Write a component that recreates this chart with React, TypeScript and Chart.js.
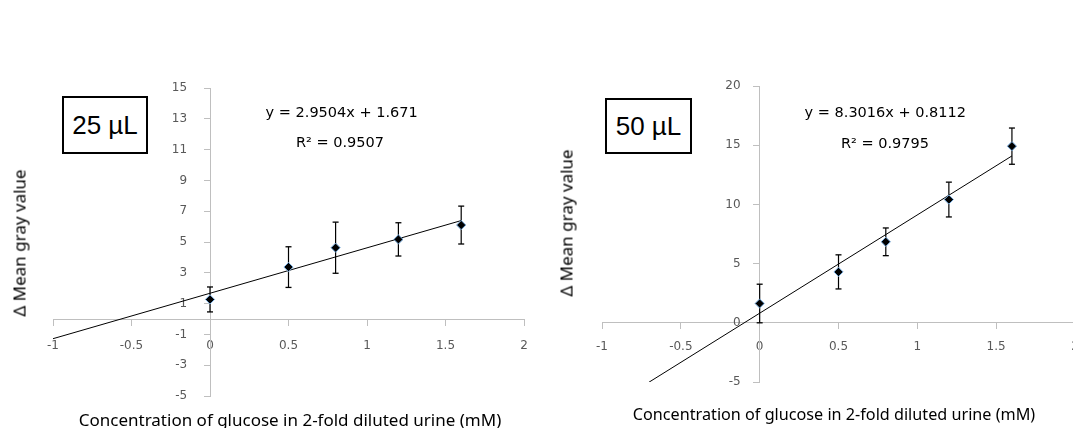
import React, { useEffect, useRef } from "react";
import { Chart, registerables } from "chart.js";

Chart.register(...registerables);

// ---- data ----
const concentrations = [0, 0.5, 0.8, 1.2, 1.6];
const values25 = [1.27, 3.37, 4.63, 5.17, 6.1];
const errors25 = [0.81, 1.32, 1.66, 1.08, 1.23];
const values50 = [1.63, 4.3, 6.84, 10.41, 14.92];
const errors50 = [1.63, 1.44, 1.17, 1.47, 1.53];
const slope25 = 2.9504;
const intercept25 = 1.671;
const rSquared25 = 0.9507;
const slope50 = 8.3016;
const intercept50 = 0.8112;
const rSquared50 = 0.9795;
const trendRange = [-1, 1.6];
const xTicks = [-1, -0.5, 0, 0.5, 1, 1.5, 2];
const yTicks25 = [-5, -3, -1, 1, 3, 5, 7, 9, 11, 13, 15];
const yTicks50 = [-5, 0, 5, 10, 15, 20];
const xTitle = "Concentration of glucose in 2-fold diluted urine (mM)";
const yTitle = "Δ Mean gray value";

const TICK_FONT = { family: "'DejaVu Sans', Verdana, sans-serif", size: 12 };
const AXIS_COLOR = "#bfbfbf";
const TICK_COLOR = "#595959";

const zeroPad = (s: any) => {
  s.paddingLeft = 0;
  s.paddingRight = 0;
  s.paddingTop = 0;
  s.paddingBottom = 0;
};

function makeConfig(
  values: number[],
  errors: number[],
  slope: number,
  intercept: number,
  yTicks: number[],
  padding: { left: number; right: number; top: number; bottom: number },
  xPad: number,
  ySpaces: string
): any {
  const datasets: any[] = [];
  datasets.push({
    data: concentrations.map((x, i) => ({ x, y: values[i] })),
    showLine: false,
    pointStyle: "rectRot",
    pointRadius: 4.6,
    pointBackgroundColor: "#000",
    pointBorderColor: "#7aaee0",
    pointBorderWidth: 1,
  });
  concentrations.forEach((x, i) => {
    datasets.push({
      data: [
        { x, y: values[i] - errors[i] },
        { x, y: values[i] + errors[i] },
      ],
      showLine: true,
      borderColor: "#000",
      borderWidth: 1.2,
      pointStyle: "line",
      pointRadius: 3,
      pointBorderColor: "#000",
      pointBorderWidth: 1.3,
    });
  });
  datasets.push({
    data: trendRange.map((x) => ({ x, y: slope * x + intercept })),
    showLine: true,
    borderColor: "#000",
    borderWidth: 1,
    pointRadius: 0,
  });
  return {
    type: "scatter",
    data: { datasets },
    options: {
      responsive: false,
      animation: false,
      events: [],
      layout: { padding },
      plugins: { legend: { display: false }, tooltip: { enabled: false } },
      scales: {
        x: {
          type: "linear",
          min: xTicks[0],
          max: xTicks[xTicks.length - 1],
          position: { y: 0 },
          afterBuildTicks: (a: any) => {
            a.ticks = xTicks.map((v) => ({ value: v }));
          },
          afterFit: zeroPad,
          grid: { drawOnChartArea: false, drawTicks: true, tickLength: 6, color: AXIS_COLOR },
          border: { display: true, color: AXIS_COLOR, width: 1 },
          ticks: {
            color: TICK_COLOR,
            font: TICK_FONT,
            padding: xPad,
            autoSkip: false,
            maxRotation: 0,
            callback: (v: any) => String(v),
          },
        },
        y: {
          type: "linear",
          min: yTicks[0],
          max: yTicks[yTicks.length - 1],
          position: { x: 0 },
          afterBuildTicks: (a: any) => {
            a.ticks = yTicks.map((v) => ({ value: v }));
          },
          afterFit: zeroPad,
          grid: { drawOnChartArea: false, drawTicks: true, tickLength: 6, color: AXIS_COLOR },
          border: { display: true, color: AXIS_COLOR, width: 1 },
          ticks: {
            color: TICK_COLOR,
            font: TICK_FONT,
            autoSkip: false,
            callback: (v: any) => String(v) + ySpaces,
          },
        },
      },
    },
  };
}

function ChartCanvas({ config, left, width }: { config: any; left: number; width: number }) {
  const ref = useRef<HTMLCanvasElement | null>(null);
  useEffect(() => {
    if (!ref.current) return;
    const chart = new Chart(ref.current, config);
    return () => chart.destroy();
  }, [config]);
  return (
    <canvas
      ref={ref}
      width={width}
      height={428}
      style={{ position: "absolute", left, top: 0, width, height: 428 }}
    />
  );
}

const textBase: React.CSSProperties = {
  position: "absolute",
  whiteSpace: "nowrap",
  transform: "translate(-50%, -50%)",
  lineHeight: 1,
};

function Label({ x, y, text, style }: { x: number; y: number; text: string; style?: React.CSSProperties }) {
  return <div style={{ ...textBase, left: x, top: y, ...style }}>{text}</div>;
}

const eqStyle: React.CSSProperties = {
  fontFamily: "'DejaVu Sans', Verdana, sans-serif",
  fontSize: 14.5,
  color: "#000",
};
const titleStyle: React.CSSProperties = {
  fontFamily: "'Noto Sans', sans-serif",
  color: "#000",
};
const boxStyle: React.CSSProperties = {
  position: "absolute",
  border: "2px solid #000",
  boxSizing: "border-box",
  display: "flex",
  alignItems: "center",
  justifyContent: "center",
  fontFamily: "'Liberation Sans', Arial, sans-serif",
  fontSize: 26,
  color: "#000",
  background: "#fff",
};

const config25 = makeConfig(values25, errors25, slope25, intercept25, yTicks25, { left: 53, right: 36, top: 88, bottom: 32 }, 14, "      ");
const config50 = makeConfig(values50, errors50, slope50, intercept50, yTicks50, { left: 62, right: 25, top: 86, bottom: 46 }, 11, "     ");

const fmt = (m: number, b: number) => `y = ${m}x + ${b}`;

export default function App() {
  return (
    <div style={{ position: "absolute", left: 0, top: 0, width: 1073, height: 428, overflow: "hidden", background: "#fff" }}>
      <ChartCanvas config={config25} left={0} width={560} />
      <ChartCanvas config={config50} left={540} width={560} />

      <Label x={341.7} y={111.7} text={fmt(slope25, intercept25)} style={eqStyle} />
      <Label x={340} y={141.7} text={`R² = ${rSquared25}`} style={eqStyle} />
      <Label x={885.3} y={112.3} text={fmt(slope50, intercept50)} style={eqStyle} />
      <Label x={885} y={142.7} text={`R² = ${rSquared50}`} style={eqStyle} />

      <div style={{ ...boxStyle, left: 62, top: 96, width: 86, height: 58 }}>25 µL</div>
      <div style={{ ...boxStyle, left: 605, top: 98, width: 87, height: 56 }}>50 µL</div>

      <Label x={290} y={419} text={xTitle} style={{ ...titleStyle, fontSize: 17 }} />
      <Label x={834} y={414} text={xTitle} style={{ ...titleStyle, fontSize: 16.2 }} />
      <Label x={18.5} y={243} text={yTitle} style={{ ...titleStyle, fontSize: 17, transform: "translate(-50%, -50%) rotate(-90deg)" }} />
      <Label x={566} y={223} text={yTitle} style={{ ...titleStyle, fontSize: 17, transform: "translate(-50%, -50%) rotate(-90deg)" }} />
    </div>
  );
}
